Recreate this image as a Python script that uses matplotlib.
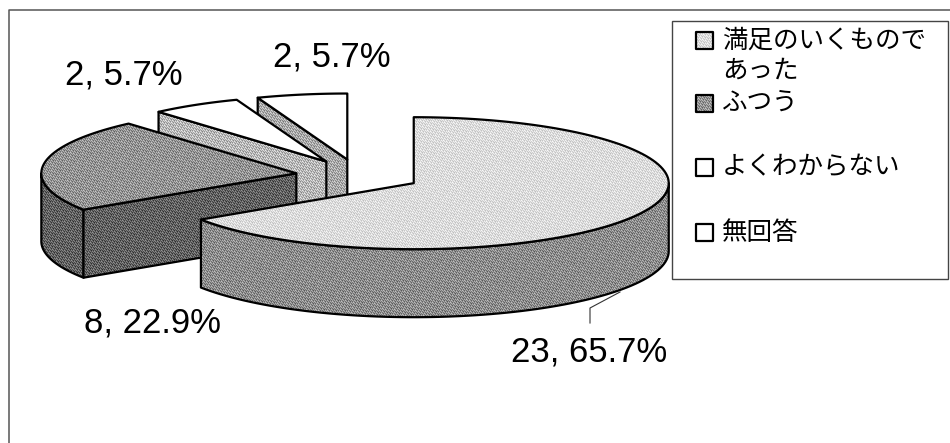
import numpy as np
import matplotlib
matplotlib.use('Agg')
import matplotlib.pyplot as plt
from matplotlib.patches import Polygon, Rectangle

plt.rcParams['font.family'] = ['Noto Sans CJK JP', 'DejaVu Sans']

## Inputs
categories = ['満足のいくもので\nあった', 'ふつう', 'よくわからない', '無回答']
counts = [23, 8, 2, 2]
top_grays = [0.86, 0.58, 1.0, 1.0]
side_grays = [0.55, 0.38, 0.72, 0.66]

W, H = 950, 443
cx, cy = 358.5, 175.5   # pie centre before the slices are pulled out
rx, ry = 255, 66        # top ellipse radii
depth = 68
explode = 0.246

# gradient noise, gives the fills a fine grain
px, py = np.meshgrid(np.arange(W), np.arange(H))
grain = (52.9829189 * ((0.06711056 * px + 0.00583715 * py) % 1)) % 1 - 0.5
grain_amount = 0.4

zcount = [1]

## adds one outlined shape filled with a grainy gray
def grainy(ax, shape, gray):
    z = zcount[0]
    zcount[0] += 1
    shape.set(fc='none', ec='black', lw=1.6, joinstyle='round', zorder=z + 0.5)
    ax.add_patch(shape)
    amount = grain_amount * min(1, (1 - gray) * 4)  # white stays clean white
    img = ax.imshow(gray + amount * grain, cmap='gray', vmin=0, vmax=1, extent=(0, W, H, 0),
                    interpolation='nearest', aspect='auto', zorder=z)
    img.set_clip_path(shape)

## point on the ellipse, angle measured clockwise from 12 o'clock
def rim(t, ox, oy):
    t = np.radians(t)
    return ox + rx * np.sin(t), oy - ry * np.cos(t)

def draw_slice(ax, t0, t1, top, side):
    mid = (t0 + t1) / 2
    ox, oy = rim(mid, 0, 0)
    ox = cx + ox * explode
    oy = cy + oy * explode

    # outer wall, only the part facing the front (90..270 deg)
    a = max(t0, 90)
    b = min(t1, 270)
    if b > a:
        ts = np.linspace(a, b, 80)
        xs, ys = rim(ts, ox, oy)
        pts = np.r_[np.c_[xs, ys], np.c_[xs, ys + depth][::-1]]
        grainy(ax, Polygon(pts, closed=True), side)

    # radial wall at the start angle is only seen on the back left slices
    if 180 < t0 < 360:
        x0, y0 = rim(t0, ox, oy)
        pts = [(ox, oy), (x0, y0), (x0, y0 + depth), (ox, oy + depth)]
        grainy(ax, Polygon(pts, closed=True), side)

    ts = np.linspace(t0, t1, 120)
    xs, ys = rim(ts, ox, oy)
    pts = np.r_[[(ox, oy)], np.c_[xs, ys]]
    grainy(ax, Polygon(pts, closed=True), top)

fig = plt.figure(figsize=(W / 100, H / 100), dpi=100)
ax = fig.add_axes([0, 0, 1, 1])
ax.set_xlim(0, W)
ax.set_ylim(H, 0)
ax.axis('off')

total = sum(counts)
angles = np.r_[0, np.cumsum(counts)] / total * 360

# back slices first, main slice goes on top
for i in [3, 2, 1, 0]:
    draw_slice(ax, angles[i], angles[i + 1], top_grays[i], side_grays[i])

# chart area frame, open on the right and at the bottom
ax.plot([8.5, 8.5, W], [H, 10, 10], color='#555555', lw=1.1, zorder=50)

labels = [f'{n}, {n / total * 100:.1f}%' for n in counts]
label_pos = [(589, 352), (153, 323), (124, 75), (332, 57)]
for s, (x, y) in zip(labels, label_pos):
    ax.text(x, y, s, fontsize=25, family='Liberation Sans', ha='center', va='center', color='black', zorder=60)

# leader line for the biggest slice
ax.plot([590, 590, 620], [323, 308, 292], color='#333333', lw=0.8, zorder=40)

# legend
ax.add_patch(Rectangle((672, 21), 276, 258, fc='white', ec='#444444', lw=1.0, zorder=70))
swatch_y = [40, 103, 167, 232]
text_y = [56, 103, 167, 233]
for gray, name, sy, ty in zip(top_grays, categories, swatch_y, text_y):
    zcount[0] = 71 + swatch_y.index(sy) * 2
    grainy(ax, Rectangle((696, sy - 8.5), 17, 17), gray)
    ax.text(722, ty, name, fontsize=18.4, ha='left', va='center', zorder=90, linespacing=1.2)

fig.savefig('out.png', dpi=100)
